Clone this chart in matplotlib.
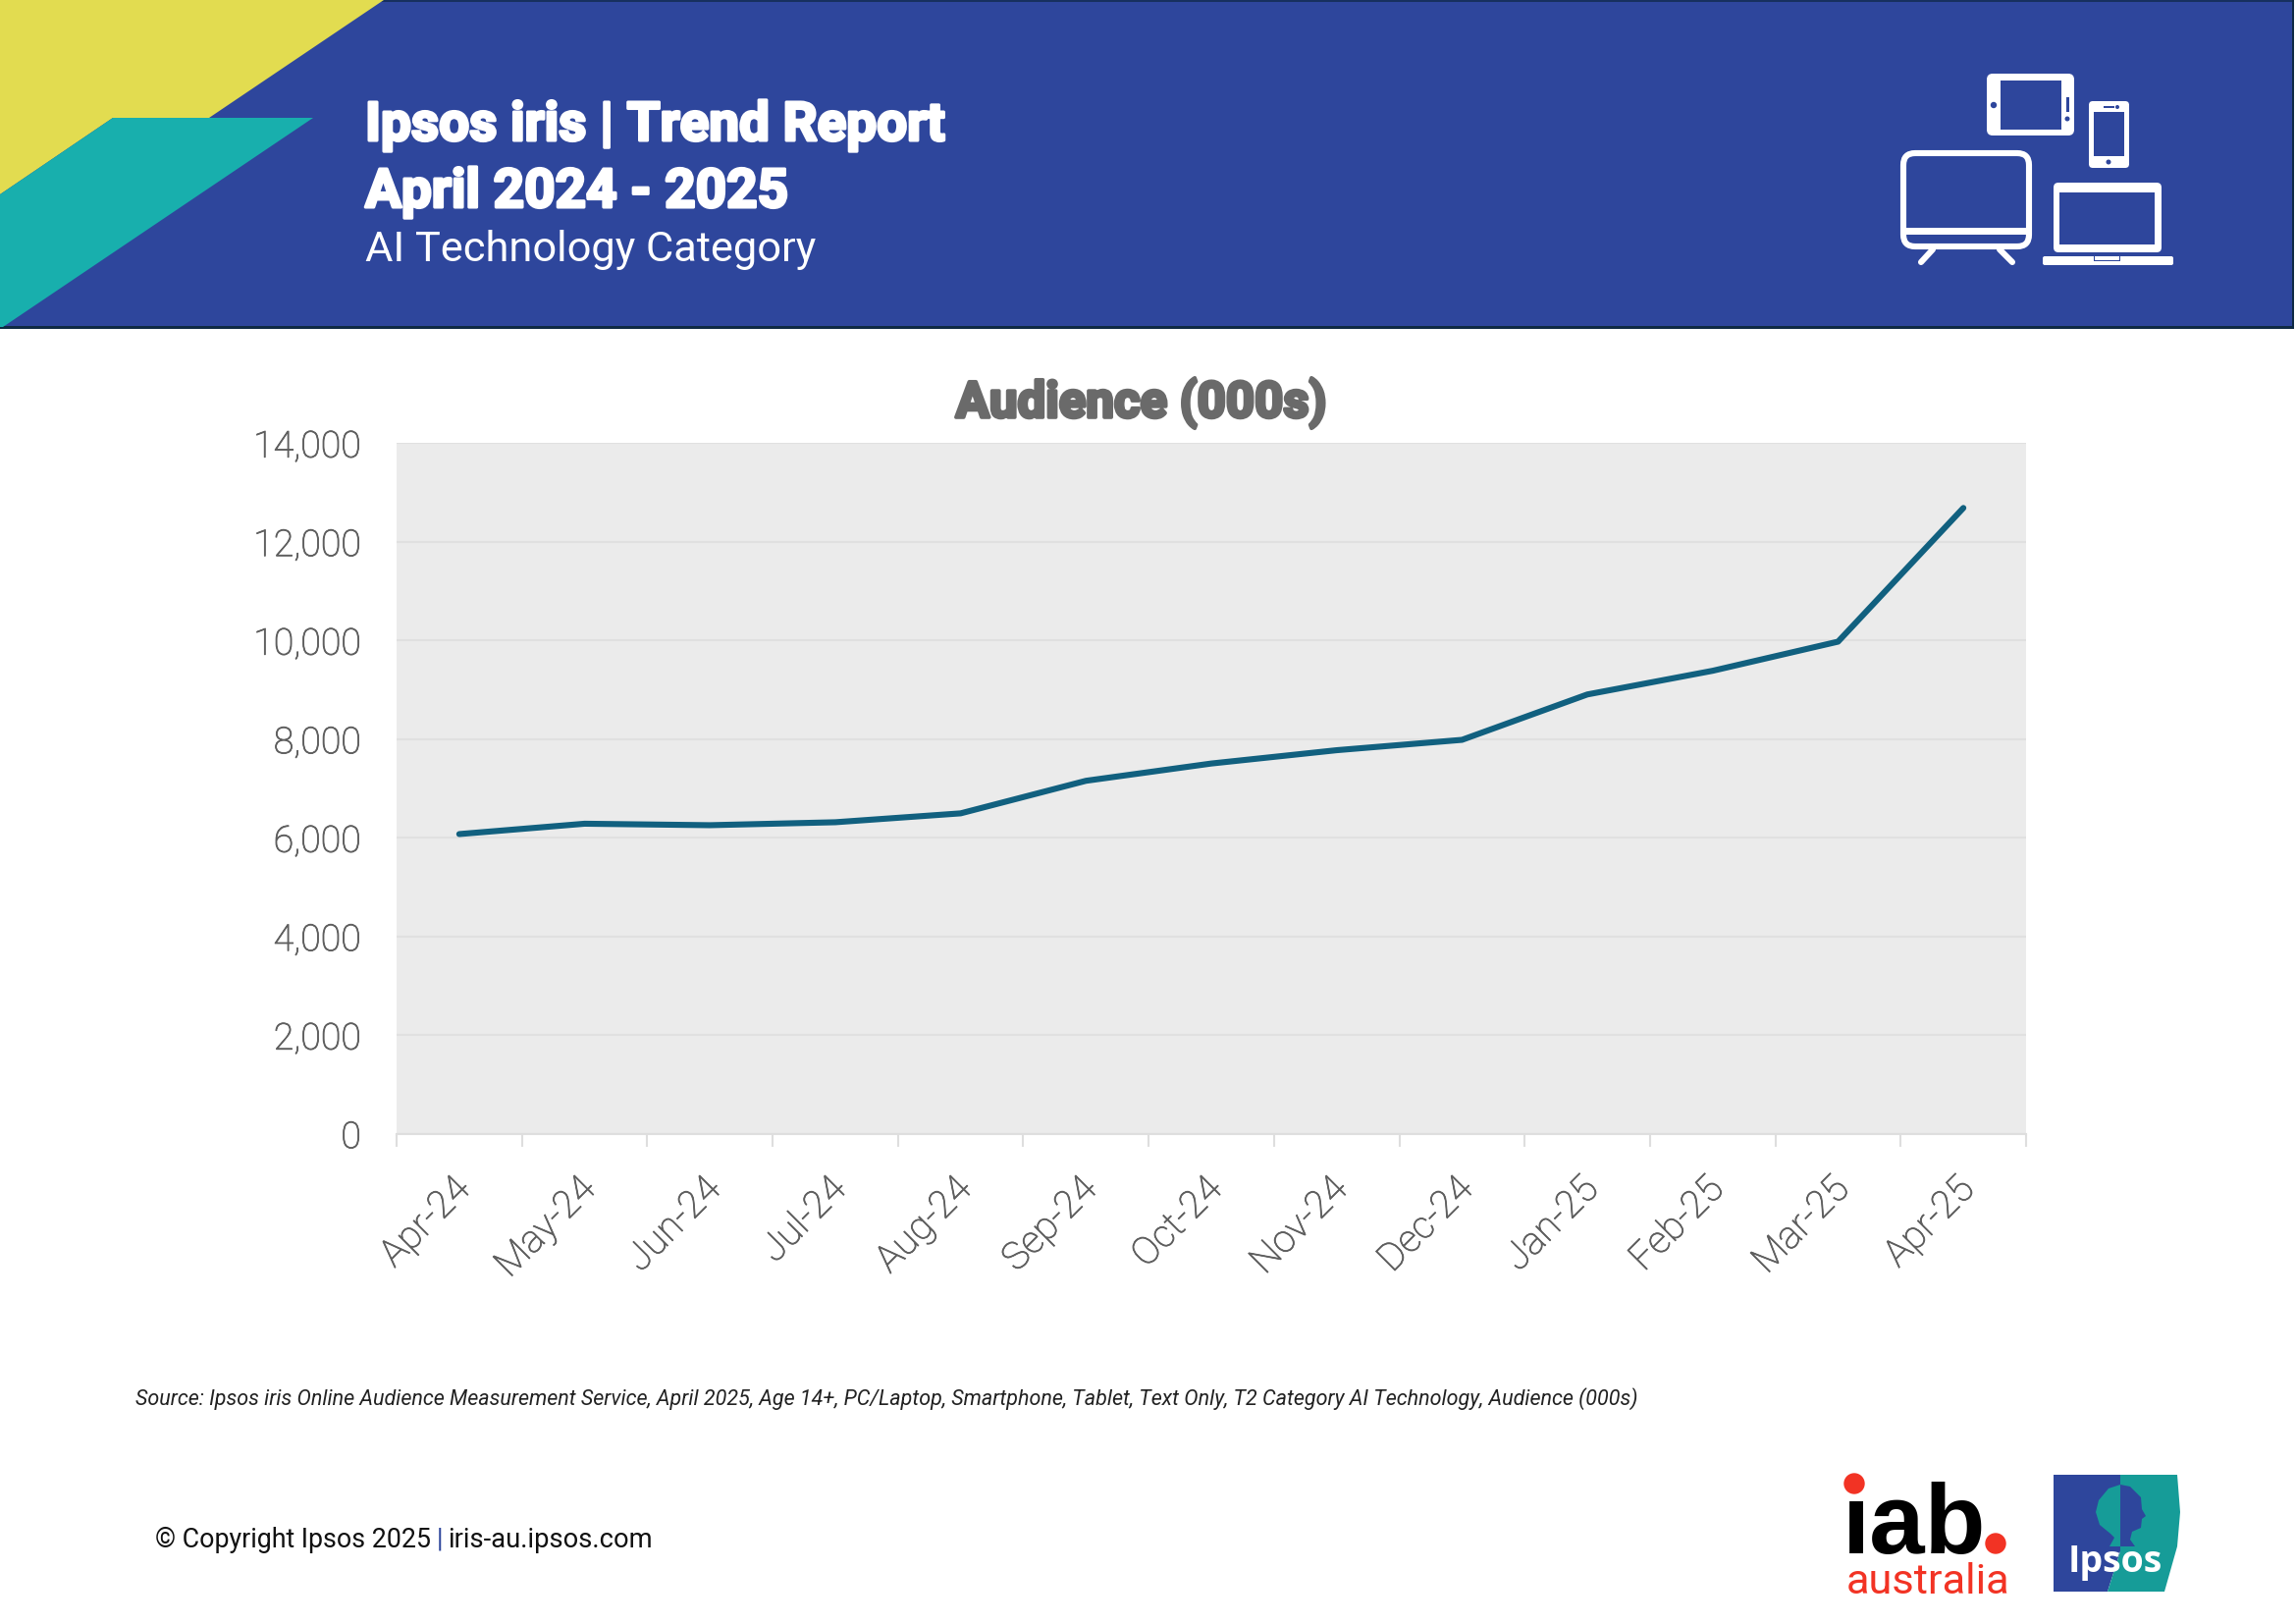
import matplotlib
matplotlib.use("Agg")
import matplotlib.pyplot as plt
import matplotlib.patheffects as pe
from matplotlib.patches import Polygon, Rectangle, Circle, FancyBboxPatch
from matplotlib.ticker import FixedLocator, FuncFormatter
from matplotlib.transforms import ScaledTranslation

# Data
months = ["Apr-24", "May-24", "Jun-24", "Jul-24", "Aug-24", "Sep-24", "Oct-24",
          "Nov-24", "Dec-24", "Jan-25", "Feb-25", "Mar-25", "Apr-25"]
audience = [6070, 6280, 6250, 6310, 6490, 7150, 7500, 7770, 7980, 8900, 9380, 9970, 12680]
y_ticks = [0, 2000, 4000, 6000, 8000, 10000, 12000, 14000]

W, H = 2339, 1654
BLUE = "#2E469C"
YELLOW = "#E2DC50"
TEAL = "#18AFAD"
GREY = "#5E5E5E"
FONT = "Roboto"

plt.rcParams["font.family"] = [FONT, "DejaVu Sans"]
fig = plt.figure(figsize=(W / 100, H / 100), dpi=100, facecolor="white")

# Main chart
ax = fig.add_axes([404 / W, 1 - 1154.5 / H, 1660 / W, 703.5 / H])
ax.set_facecolor("#EBEBEB")
centres = [i + 0.5 for i in range(len(months))]
ax.plot(centres, audience, color="#11607F", lw=4.4, solid_capstyle="round", solid_joinstyle="round", zorder=3)
ax.set_xlim(0, len(months))
ax.set_ylim(0, 14000)
ax.set_yticks(y_ticks)
ax.yaxis.set_major_formatter(FuncFormatter(lambda v, p: f"{int(v):,}"))
ax.grid(axis="y", color="#E0E0E0", lw=1.5, zorder=1)
ax.set_axisbelow(True)
ax.tick_params(axis="y", length=0, labelsize=27, labelcolor=GREY, pad=26)
thicker = [pe.withStroke(linewidth=0.6, foreground=GREY)]
for lab in ax.get_yticklabels():
    lab.set_fontweight("light")
    lab.set_path_effects(thicker)
for s in ["top", "left", "right"]:
    ax.spines[s].set_visible(False)
ax.spines["bottom"].set_color("#DEDEDE")
ax.spines["bottom"].set_linewidth(1.5)

# ticks sit on the category edges, labels in the middle
ax.xaxis.set_major_locator(FixedLocator(range(len(months) + 1)))
ax.xaxis.set_major_formatter(FuncFormatter(lambda v, p: ""))
ax.xaxis.set_minor_locator(FixedLocator(centres))
ax.set_xticklabels(months, minor=True)
ax.tick_params(axis="x", which="major", length=9, width=1.5, color="#DEDEDE")
ax.tick_params(axis="x", which="minor", length=0, pad=27)
shift = ScaledTranslation(-8 / 100, 0, fig.dpi_scale_trans)
for lab in ax.get_xticklabels(minor=True):
    lab.set(rotation=45, ha="right", va="top", rotation_mode="anchor", fontsize=28, color=GREY,
            fontweight="light", path_effects=thicker)
    lab.set_transform(lab.get_transform() + shift)

# Overlay in pixel coordinates for header, footer and logos
ov = fig.add_axes([0, 0, 1, 1], facecolor="none")
ov.set_xlim(0, W)
ov.set_ylim(H, 0)
ov.axis("off")

# Header band
ov.add_patch(Rectangle((0, 0), 2337, 334, fc=BLUE, ec="none"))
ov.add_patch(Rectangle((0, 0), 2337, 1.5, fc="#17305F", ec="none"))
ov.add_patch(Rectangle((0, 332), 2337, 2.5, fc="#0F2A45", ec="none"))
ov.add_patch(Rectangle((2334.5, 0), 2.5, 334, fc="#0F2A45", ec="none"))
ov.add_patch(Polygon([(0, 0), (391, 0), (213, 120), (115, 120), (0, 198)], fc=YELLOW, ec="none"))
ov.add_patch(Polygon([(115, 120), (319, 120), (3, 333), (0, 333), (0, 198)], fc=TEAL, ec="none"))

bold = [pe.withStroke(linewidth=2.2, foreground="white")]
ov.text(372, 143, "Ipsos iris | Trend Report", fontsize=39.5, fontweight="bold", color="white", path_effects=bold)
ov.text(372, 211, "April 2024 - 2025", fontsize=39.5, fontweight="bold", color="white", path_effects=bold)
ov.text(372, 266, "AI Technology Category", fontsize=31.2, color="white")

# Device icons
def rbox(x0, y0, x1, y1, r, **kw):
    ov.add_patch(FancyBboxPatch((x0, y0), x1 - x0, y1 - y0,
                                boxstyle=f"round,pad=0,rounding_size={r}", **kw))

def rect(x0, y0, x1, y1, col):
    ov.add_patch(Rectangle((x0, y0), x1 - x0, y1 - y0, fc=col, ec="none", zorder=4))

# tablet
rbox(2024, 75, 2113, 138, 6, fc="white", ec="none")
rect(2038, 82, 2100, 132, BLUE)
ov.add_patch(Circle((2031, 107), 3.2, fc=BLUE, ec="none", zorder=5))
rect(2105, 99, 2108, 114, BLUE)
ov.add_patch(Circle((2106, 121), 2.5, fc=BLUE, ec="none", zorder=5))
# phone
rbox(2128, 103, 2169, 171, 4, fc="white", ec="none")
rect(2133, 114, 2164, 159, BLUE)
rect(2143, 107.5, 2154, 109.5, BLUE)
ov.add_patch(Circle((2157, 109), 2, fc=BLUE, ec="none", zorder=5))
ov.add_patch(Circle((2148, 165), 2.5, fc=BLUE, ec="none", zorder=5))
# tv
ov.plot([1969, 1957], [254, 267], color="white", lw=4.4, solid_capstyle="round")
ov.plot([2037, 2050], [254, 267], color="white", lw=4.4, solid_capstyle="round")
rbox(1939, 156, 2067, 251, 12, fc=BLUE, ec="white", lw=4.4)
rect(1939, 232, 2067, 239, "white")
# laptop
rbox(2092, 186, 2202, 257, 5, fc="white", ec="none")
rect(2098, 196, 2195, 249, BLUE)
rbox(2081, 261, 2214, 270, 2, fc="white", ec="none")
rect(2133, 261, 2134, 266, BLUE)
rect(2159, 261, 2160, 266, BLUE)
rect(2133, 265, 2160, 266, BLUE)

# Chart title
ov.text(1163, 425, "Audience (000s)", fontsize=36.7, fontweight="bold", color="#6A6A6A", ha="center",
        path_effects=[pe.withStroke(linewidth=2.6, foreground="#6A6A6A")])

# Source and copyright
ov.text(138, 1431, "Source: Ipsos iris Online Audience Measurement Service, April 2025, Age 14+, PC/Laptop, "
        "Smartphone, Tablet, Text Only, T2 Category AI Technology, Audience (000s)",
        fontsize=15.52, style="italic", color="#222222")
ov.text(158, 1575.5, "© Copyright Ipsos 2025", fontsize=19.3, color="#111111")
ov.text(445, 1575.5, "|", fontsize=19.3, color=BLUE)
ov.text(456, 1575.5, "iris-au.ipsos.com", fontsize=19.7, color="#111111")

# iab australia logo
RED = "#F23324"
ov.text(1877, 1582, "iab", fontsize=73, fontweight="bold", color="black", family="Liberation Sans")
rect(1870, 1490, 1908, 1526, "white")
ov.add_patch(Circle((1889, 1511), 10.7, fc=RED, ec="none", zorder=5))
ov.add_patch(Circle((2033, 1572), 10.7, fc=RED, ec="none", zorder=5))
ov.text(1881, 1623, "australia", fontsize=31.2, color=RED)

# Ipsos logo
ov.add_patch(Polygon([(2092, 1502), (2160, 1502), (2160, 1580), (2147, 1621), (2092, 1621)], fc=BLUE, ec="none"))
ov.add_patch(Polygon([(2160, 1502), (2218, 1502), (2221, 1540), (2218, 1575), (2205, 1621), (2147, 1621), (2160, 1580)],
                     fc="#169C98", ec="none"))
ov.add_patch(Polygon([(2160, 1512), (2170, 1514), (2181, 1525), (2182, 1537), (2186, 1544), (2182, 1547),
                      (2181, 1556), (2172, 1560), (2170, 1568), (2175, 1575), (2160, 1575)], fc=BLUE, ec="none"))
ov.add_patch(Polygon([(2160, 1512), (2148, 1516), (2138, 1528), (2135, 1540), (2139, 1553), (2150, 1562),
                      (2154, 1566), (2149, 1575), (2160, 1575)], fc="#169C98", ec="none"))
ov.text(2107, 1601, "Ipsos", fontsize=27, color="white", fontweight="bold", family="Open Sans")

fig.savefig("out.png", dpi=100)
